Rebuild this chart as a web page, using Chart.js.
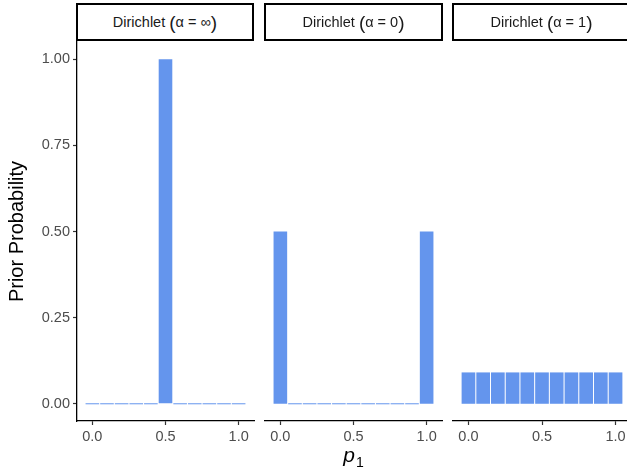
<!DOCTYPE html>
<html>
<head>
<meta charset="utf-8">
<script src="https://cdn.jsdelivr.net/npm/chart.js@4"></script>
<style>
    html, body { margin: 0; padding: 0; background: #fff; }
    #wrap { position: relative; width: 627px; height: 476px; overflow: hidden; }
    #wrap canvas { position: absolute; left: 0; top: 0; }
    .strip {
        position: absolute; top: 3px; height: 38px; box-sizing: border-box;
        border: 2px solid #000; background: #fff;
        font: 14.5px "Liberation Sans", Arial, sans-serif; color: #1a1a1a;
        display: flex; align-items: center; justify-content: center;
        white-space: pre;
    }
    .strip .par { font-size: 19px; line-height: 19px; }
</style>
</head>
<body>
<div id="wrap">
    <canvas id="c1" width="640" height="476"></canvas>
    <canvas id="c2" width="640" height="476"></canvas>
    <canvas id="c3" width="640" height="476"></canvas>
    <div class="strip" style="left:76px;width:178px">Dirichlet <span class="par">(</span>α = ∞<span class="par">)</span></div>
    <div class="strip" style="left:264px;width:179px">Dirichlet <span class="par">(</span>α = 0<span class="par">)</span></div>
    <div class="strip" style="left:452px;width:179px">Dirichlet <span class="par">(</span>α = 1<span class="par">)</span></div>
</div>
<script>
// p1 values (bar centres)
const p1 = [0.0, 0.1, 0.2, 0.3, 0.4, 0.5, 0.6, 0.7, 0.8, 0.9, 1.0];
// prior probability for each facet
const priorInf = [0, 0, 0, 0, 0, 1, 0, 0, 0, 0, 0];
const priorZero = [0.5, 0, 0, 0, 0, 0, 0, 0, 0, 0, 0.5];
const priorOne = [0.091, 0.091, 0.091, 0.091, 0.091, 0.091, 0.091, 0.091, 0.091, 0.091, 0.091];
const xTicks = [0, 0.5, 1];
const yTicks = [0, 0.25, 0.5, 0.75, 1];

const barColor = '#6495ED';
const font = 'Liberation Sans';

// x axis title "p" with subscript "1", drawn under the middle panel
const subTitle = {
    id: 'subTitle',
    afterDraw(chart) {
        const ctx = chart.ctx;
        const cx = (chart.chartArea.left + chart.chartArea.right) / 2;
        const y = 466;
        ctx.save();
        ctx.fillStyle = '#000';
        ctx.textBaseline = 'alphabetic';
        ctx.font = 'italic 21px ' + font;
        const wp = ctx.measureText('p').width;
        ctx.font = '14px ' + font;
        const w1 = ctx.measureText('1').width;
        const x0 = cx - (wp + w1 + 1) / 2;
        ctx.font = 'italic 21px ' + font;
        ctx.fillText('p', x0, y - 4);
        ctx.font = '14px ' + font;
        ctx.fillText('1', x0 + wp + 1, y + 1);
        ctx.restore();
    }
};

function makeChart(id, values, opts) {
    const showY = opts.showY;
    return new Chart(document.getElementById(id), {
        type: 'bar',
        plugins: opts.showXTitle ? [subTitle] : [],
        data: {
            datasets: [{
                data: p1.map((p, i) => ({x: p, y: values[i]})),
                backgroundColor: barColor,
                barPercentage: 0.93,
                categoryPercentage: 1,
                minBarLength: 1,
                borderWidth: 0
            }]
        },
        options: {
            responsive: false,
            animation: false,
            events: [],
            layout: {
                padding: {left: opts.left, right: opts.right, top: 42, bottom: 0}
            },
            plugins: {legend: {display: false}, tooltip: {enabled: false}},
            scales: {
                x: {
                    type: 'linear',
                    offset: false,
                    min: -0.105,
                    max: 1.105,
                    afterBuildTicks: (scale) => { scale.ticks = xTicks.map(v => ({value: v})); },
                    afterFit: (scale) => { scale.height = 55; },
                    grid: {offset: false, drawOnChartArea: false, tickLength: 4, tickColor: '#333', tickWidth: 1.2},
                    border: {color: '#000', width: 1.3},
                    ticks: {
                        color: '#4d4d4d', padding: 3, maxRotation: 0,
                        font: {family: font, size: 14.5},
                        callback: (v) => v.toFixed(1)
                    },
                    title: {display: false}
                },
                y: {
                    display: showY,
                    min: -0.05,
                    max: 1.05,
                    afterBuildTicks: (scale) => { scale.ticks = yTicks.map(v => ({value: v})); },
                    afterFit: (scale) => { if (showY) scale.width = 77; },
                    grid: {drawOnChartArea: false, tickLength: 4, tickColor: '#333', tickWidth: 1.2},
                    border: {color: '#000', width: 1.3},
                    ticks: {
                        color: '#4d4d4d', padding: 3,
                        font: {family: font, size: 14.5},
                        callback: (v) => v.toFixed(2)
                    },
                    title: {
                        display: true,
                        text: 'Prior Probability',
                        color: '#000',
                        padding: {top: 5, bottom: 0},
                        font: {family: font, size: 20, lineHeight: 1.2}
                    }
                }
            }
        }
    });
}

makeChart('c1', priorInf, {left: 0, right: 640 - 254, showY: true, showXTitle: false});
makeChart('c2', priorZero, {left: 265, right: 640 - 442, showY: false, showXTitle: true});
makeChart('c3', priorOne, {left: 453, right: 640 - 631, showY: false, showXTitle: false});
</script>
</body>
</html>
